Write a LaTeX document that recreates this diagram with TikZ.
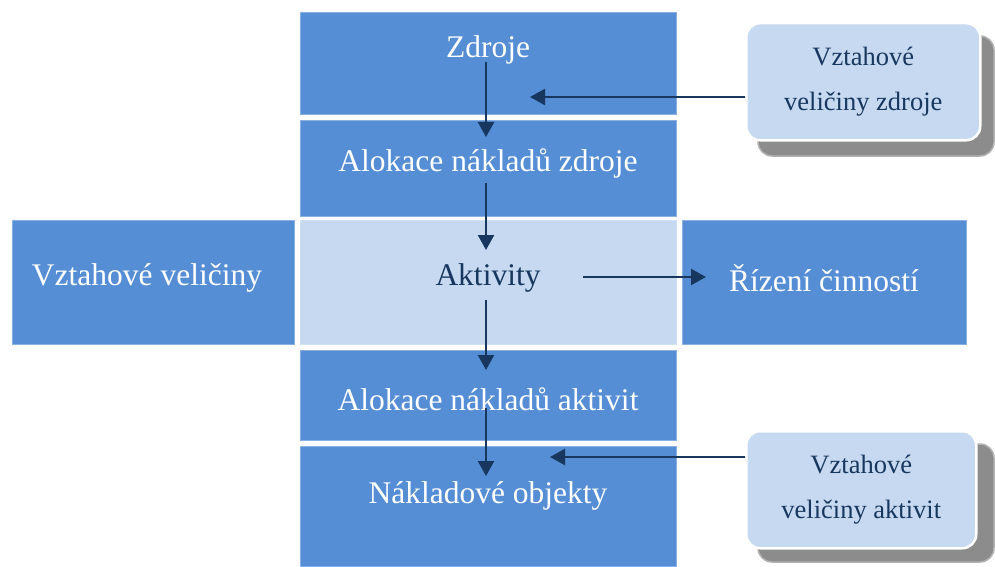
\documentclass[tikz,border=0pt]{standalone}
\usepackage{fontspec}
\setmainfont{Liberation Serif}
\usetikzlibrary{arrows.meta}
\definecolor{boxblue}{HTML}{558ED5}
\definecolor{boxlight}{HTML}{C6D9F1}
\definecolor{navy}{HTML}{17375E}
\tikzset{
  x=1pt, y=-1pt,
  bluebox/.style={fill=boxblue, draw=boxblue!70!white, line width=0.8pt},
  lightbox/.style={fill=boxlight, draw=boxlight!80!white, line width=0.8pt},
  whitelabel/.style={text=white, font=\fontsize{31.5}{36}\selectfont},
  navylabel/.style={text=navy, font=\fontsize{31.5}{36}\selectfont},
  callout/.style={fill=boxlight, draw=white, line width=2.5pt, rounded corners=14pt, text=navy, align=center, font=\fontsize{26.5}{45}\selectfont},
  calloutshadow/.style={fill=black!45, draw=black!30, line width=1.5pt, rounded corners=14pt},
  flow/.style={draw=navy, line width=2.3pt, -{Triangle[length=15pt,width=16pt]}}
}
\begin{document}
\begin{tikzpicture}
\useasboundingbox (0,0) rectangle (995,567);

% central column
\path[bluebox] (300,12) rectangle (676,114);
\node[whitelabel] (zdroje) at (488,50) {Zdroje};
\path[bluebox] (300,120) rectangle (676,216);
\node[whitelabel] (alokz) at (488,163) {Alokace nákladů zdroje};
\path[lightbox] (300,220) rectangle (676,344);
\node[navylabel] (aktivity) at (488,278) {Aktivity};
\path[bluebox] (300,350) rectangle (676,440);
\node[whitelabel] (aloka) at (488,399) {Alokace nákladů aktivit};
\path[bluebox] (300,446) rectangle (676,566);
\node[whitelabel] (objekty) at (488,496) {Nákladové objekty};

% side boxes
\path[bluebox] (12,220) rectangle (294,344);
\node[whitelabel] (vv) at (147,278) {Vztahové veličiny};
\path[bluebox] (682,220) rectangle (966,344);
\node[whitelabel] (rizeni) at (824,278) {Řízení činností};

% callouts with shadows
\path[calloutshadow] (758,36) rectangle (994,156);
\node[callout, minimum width=234pt, minimum height=117pt, anchor=north west] (vzz) at (745,22) {Vztahové\\veličiny zdroje};
\path[calloutshadow] (758,444) rectangle (994,562);
\node[callout, minimum width=230pt, minimum height=117pt, anchor=north west] (vza) at (745,430) {Vztahové\\veličiny aktivit};

% connection points
\coordinate (a1s) at (486,62);   \coordinate (a1e) at (486,137);
\coordinate (a2s) at (486,183);  \coordinate (a2e) at (486,250);
\coordinate (a3s) at (486,300);  \coordinate (a3e) at (486,370);
\coordinate (a4s) at (486,408);  \coordinate (a4e) at (486,476);
\coordinate (h1e) at (530,97);
\coordinate (h2e) at (550,457);
\coordinate (h3s) at (583,277);  \coordinate (h3e) at (706,277);

\draw[flow] (a1s) -- (a1e);
\draw[flow] (a2s) -- (a2e);
\draw[flow] (a3s) -- (a3e);
\draw[flow] (a4s) -- (a4e);
\draw[flow] (vzz.west |- h1e) -- (h1e);
\draw[flow] (vza.west |- h2e) -- (h2e);
\draw[flow] (h3s) -- (h3e);
\end{tikzpicture}
\end{document}
